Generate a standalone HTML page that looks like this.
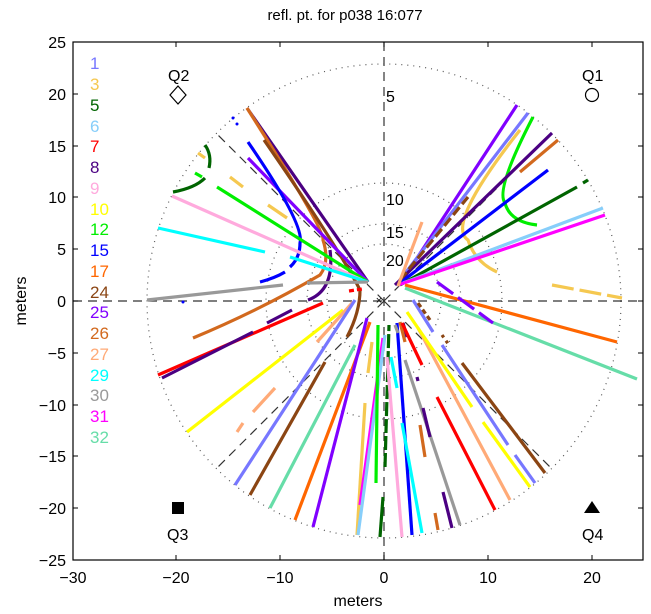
<!DOCTYPE html>
<html><head><meta charset="utf-8"><style>
body{margin:0;background:#fff}
svg{display:block;font-family:"Liberation Sans",sans-serif}
</style></head><body>
<svg width="651" height="614" viewBox="0 0 651 614" xmlns="http://www.w3.org/2000/svg">
<rect width="651" height="614" fill="#fff"/>
<text x="345" y="20" font-size="15" text-anchor="middle">refl. pt. for p038 16:077</text>
<!-- grid circles -->
<g fill="none" stroke="#555" stroke-width="1.2" stroke-dasharray="1 5">
<circle cx="384" cy="301" r="237"/>
<circle cx="384" cy="301" r="118"/>
<circle cx="384" cy="301" r="77"/>
<circle cx="384" cy="301" r="57"/>
</g>
<g stroke="#333" stroke-width="1.2" stroke-dasharray="9 6" fill="none">
<line x1="73" y1="301" x2="643" y2="301"/>
<line x1="384" y1="42" x2="384" y2="560"/>
<line x1="384" y1="301" x2="216" y2="133"/>
<line x1="384" y1="301" x2="552" y2="133"/>
<line x1="384" y1="301" x2="216" y2="469"/>
<line x1="384" y1="301" x2="552" y2="469"/>
</g>
<text x="379" y="301" font-size="11" text-anchor="middle" dominant-baseline="middle">×</text>
<g font-size="16">
<text x="386" y="102">5</text>
<text x="386" y="205">10</text>
<text x="386" y="238">15</text>
<text x="386" y="266">20</text>
</g>
<g fill="none" stroke-width="3.2" stroke-linecap="butt">
<!-- upper right -->
<line x1="404" y1="278" x2="517" y2="105" stroke="#8000ff"/>
<line x1="400" y1="280" x2="528" y2="113" stroke="#7777ff"/>
<path d="M520 130 Q445 225 468 240 Q475 262 497 272" stroke="#f5c850"/>
<path d="M533 117 Q495 190 505 203 Q510 222 537 225" stroke="#00ee00"/>
<line x1="395" y1="285" x2="552" y2="133" stroke="#4b0082"/>
<line x1="520" y1="172" x2="558" y2="140" stroke="#d2691e"/>
<line x1="400" y1="283" x2="548" y2="170" stroke="#0000ff"/>
<line x1="400" y1="285" x2="577" y2="187" stroke="#006400"/>
<line x1="583" y1="183" x2="588" y2="180" stroke="#006400"/>
<line x1="403" y1="283" x2="603" y2="208" stroke="#87cefa"/>
<line x1="398" y1="285" x2="605" y2="215" stroke="#ff00ff"/>
<line x1="552" y1="285" x2="622" y2="298" stroke="#f5c850" stroke-dasharray="22 6"/>
<line x1="405" y1="285" x2="617" y2="342" stroke="#ff6600"/>
<line x1="405" y1="288" x2="637" y2="379" stroke="#66dda8"/>
<line x1="437" y1="282" x2="493" y2="323" stroke="#8000ff" stroke-dasharray="20 6"/>
<line x1="400" y1="280" x2="468" y2="197" stroke="#8b4513" stroke-dasharray="10 4"/>
<line x1="398" y1="286" x2="422" y2="222" stroke="#ffaa77"/>
<!-- upper left -->
<line x1="247" y1="108" x2="368" y2="282" stroke="#4b0082"/>
<line x1="247" y1="108" x2="295" y2="185" stroke="#ffaa77"/>
<path d="M247 108 Q325 230 323 240 Q330 262 320 275 Q260 310 193 338" stroke="#d2691e"/>
<path d="M264 140 Q340 250 360 290 Q360 312 347 337" stroke="#8b4513"/>
<path d="M330 250 Q335 290 308 300" stroke="#4b0082"/>
<line x1="248" y1="158" x2="368" y2="282" stroke="#8000ff"/>
<path d="M248 142 Q305 225 300 243 Q300 258 290 267" stroke="#0000ff"/>
<path d="M260 282 Q275 278 285 272" stroke="#0000ff"/>
<line x1="217" y1="187" x2="368" y2="282" stroke="#00ee00"/>
<line x1="195" y1="173" x2="202" y2="177" stroke="#00ee00"/>
<line x1="172" y1="196" x2="362" y2="280" stroke="#ffaadd"/>
<line x1="158" y1="228" x2="265" y2="252" stroke="#00ffff"/>
<line x1="290" y1="257" x2="368" y2="282" stroke="#00ffff"/>
<line x1="147" y1="300" x2="283" y2="285" stroke="#999"/>
<line x1="307" y1="283" x2="368" y2="282" stroke="#999"/>
<path d="M173 192 Q195 188 205 178" stroke="#006400"/>
<path d="M205 145 Q212 155 209 168" stroke="#006400"/>
<line x1="230" y1="177" x2="243" y2="187" stroke="#f5c850"/>
<line x1="268" y1="205" x2="287" y2="218" stroke="#f5c850"/>
<line x1="198" y1="153" x2="205" y2="158" stroke="#f5c850"/>
<line x1="349" y1="291" x2="362" y2="289" stroke="#ff0000" stroke-dasharray="5 3"/>
<!-- lower left -->
<line x1="158" y1="375" x2="323" y2="303" stroke="#ff0000"/>
<line x1="162" y1="378" x2="253" y2="332" stroke="#4b0082"/>
<line x1="267" y1="323" x2="292" y2="310" stroke="#4b0082"/>
<line x1="187" y1="432" x2="343" y2="310" stroke="#ffff00"/>
<line x1="317" y1="342" x2="353" y2="302" stroke="#ffaa77"/>
<line x1="237" y1="432" x2="243" y2="423" stroke="#ffaa77"/>
<line x1="253" y1="412" x2="275" y2="388" stroke="#ffaa77"/>
<line x1="235" y1="485" x2="355" y2="300" stroke="#7777ff"/>
<line x1="250" y1="495" x2="325" y2="362" stroke="#8b4513"/>
<line x1="270" y1="508" x2="355" y2="345" stroke="#66dda8"/>
<line x1="295" y1="520" x2="370" y2="322" stroke="#ff6600"/>
<line x1="313" y1="527" x2="367" y2="318" stroke="#8000ff"/>
<line x1="357" y1="535" x2="365" y2="403" stroke="#f5c850"/>
<line x1="368" y1="373" x2="372" y2="342" stroke="#f5c850"/>
<line x1="360" y1="505" x2="383" y2="338" stroke="#ff00ff"/>
<line x1="358" y1="535" x2="385" y2="335" stroke="#87cefa"/>
<line x1="376" y1="483" x2="378" y2="325" stroke="#00ee00"/>
<line x1="385" y1="467" x2="389" y2="325" stroke="#006400" stroke-dasharray="14 3"/>
<line x1="380" y1="537" x2="383" y2="497" stroke="#006400"/>
<!-- lower right -->
<line x1="402" y1="537" x2="387" y2="357" stroke="#ffaadd"/>
<line x1="412" y1="535" x2="397" y2="323" stroke="#0000ff"/>
<line x1="422" y1="533" x2="402" y2="423" stroke="#00ffff"/>
<line x1="391" y1="357" x2="397" y2="388" stroke="#00ffff"/>
<line x1="405" y1="360" x2="460" y2="525" stroke="#999"/>
<line x1="395" y1="325" x2="398" y2="333" stroke="#999"/>
<line x1="443" y1="492" x2="452" y2="528" stroke="#4b0082"/>
<line x1="423" y1="408" x2="430" y2="437" stroke="#4b0082"/>
<line x1="417" y1="377" x2="418" y2="381" stroke="#4b0082"/>
<line x1="403" y1="323" x2="407" y2="337" stroke="#4b0082"/>
<line x1="420" y1="425" x2="425" y2="457" stroke="#d2691e"/>
<line x1="435" y1="513" x2="438" y2="530" stroke="#d2691e"/>
<line x1="400" y1="322" x2="405" y2="342" stroke="#d2691e"/>
<line x1="437" y1="397" x2="495" y2="510" stroke="#ff0000"/>
<line x1="402" y1="323" x2="422" y2="365" stroke="#ff0000"/>
<line x1="418" y1="328" x2="510" y2="500" stroke="#ffaa77"/>
<line x1="407" y1="312" x2="472" y2="407" stroke="#ffff00"/>
<line x1="483" y1="422" x2="530" y2="487" stroke="#ffff00"/>
<line x1="442" y1="345" x2="508" y2="445" stroke="#7777ff"/>
<line x1="515" y1="455" x2="535" y2="483" stroke="#7777ff"/>
<line x1="413" y1="300" x2="433" y2="332" stroke="#7777ff"/>
<line x1="462" y1="363" x2="545" y2="473" stroke="#8b4513"/>
<line x1="418" y1="303" x2="430" y2="320" stroke="#8b4513" stroke-dasharray="5 3"/>
<line x1="442" y1="335" x2="449" y2="345" stroke="#8b4513" stroke-dasharray="3 4"/>
</g>
<g fill="#0000ff"><circle cx="233" cy="118" r="1.5"/><circle cx="237" cy="124" r="1.5"/><circle cx="183" cy="302" r="1.5"/></g>
<!-- Q markers -->
<g font-size="16">
<text x="168" y="81">Q2</text>
<text x="582" y="81">Q1</text>
<text x="167" y="540">Q3</text>
<text x="582" y="540">Q4</text>
</g>
<path d="M178 86 L186 95 L178 104 L170 95 Z" fill="none" stroke="#000" stroke-width="1.2"/>
<circle cx="592" cy="95" r="6.5" fill="none" stroke="#000" stroke-width="1.2"/>
<rect x="172" y="502" width="12" height="12" fill="#000"/>
<path d="M592 501 L600 513 L584 513 Z" fill="#000"/>
<!-- legend -->
<g font-size="17">
<text x="90" y="69" fill="#7777ff">1</text>
<text x="90" y="90" fill="#f5c850">3</text>
<text x="90" y="111" fill="#006400">5</text>
<text x="90" y="132" fill="#87cefa">6</text>
<text x="90" y="152" fill="#ff0000">7</text>
<text x="90" y="173" fill="#4b0082">8</text>
<text x="90" y="194" fill="#ffaadd">9</text>
<text x="90" y="215" fill="#ffff00">10</text>
<text x="90" y="235" fill="#00ee00">12</text>
<text x="90" y="256" fill="#0000ff">15</text>
<text x="90" y="277" fill="#ff6600">17</text>
<text x="90" y="298" fill="#8b4513">24</text>
<text x="90" y="318" fill="#8000ff">25</text>
<text x="90" y="339" fill="#d2691e">26</text>
<text x="90" y="360" fill="#ffaa77">27</text>
<text x="90" y="381" fill="#00ffff">29</text>
<text x="90" y="401" fill="#999">30</text>
<text x="90" y="422" fill="#ff00ff">31</text>
<text x="90" y="443" fill="#66dda8">32</text>
</g>
<!-- axes -->
<rect x="73" y="42" width="570" height="518" fill="none" stroke="#000" stroke-width="1.2"/>
<g stroke="#000" stroke-width="1">
<path d="M73 42v5M73 560v-5M176 42v5M176 560v-5M280 42v5M280 560v-5M384 42v5M384 560v-5M488 42v5M488 560v-5M592 42v5M592 560v-5"/>
<path d="M73 42h5M643 42h-5M73 94h5M643 94h-5M73 146h5M643 146h-5M73 197h5M643 197h-5M73 249h5M643 249h-5M73 301h5M643 301h-5M73 353h5M643 353h-5M73 405h5M643 405h-5M73 456h5M643 456h-5M73 508h5M643 508h-5M73 560h5M643 560h-5"/>
</g>
<g font-size="16" text-anchor="middle">
<text x="73" y="583">−30</text><text x="176" y="583">−20</text><text x="280" y="583">−10</text>
<text x="384" y="583">0</text><text x="488" y="583">10</text><text x="592" y="583">20</text>
</g>
<g font-size="16" text-anchor="end">
<text x="66" y="48">25</text><text x="66" y="100">20</text><text x="66" y="152">15</text>
<text x="66" y="203">10</text><text x="66" y="255">5</text><text x="66" y="307">0</text>
<text x="66" y="359">−5</text><text x="66" y="411">−10</text><text x="66" y="462">−15</text>
<text x="66" y="514">−20</text><text x="66" y="566">−25</text>
</g>
<text x="358" y="606" font-size="16" text-anchor="middle">meters</text>
<text transform="translate(26 301) rotate(-90)" font-size="16" text-anchor="middle">meters</text>
</svg>
</body></html>
